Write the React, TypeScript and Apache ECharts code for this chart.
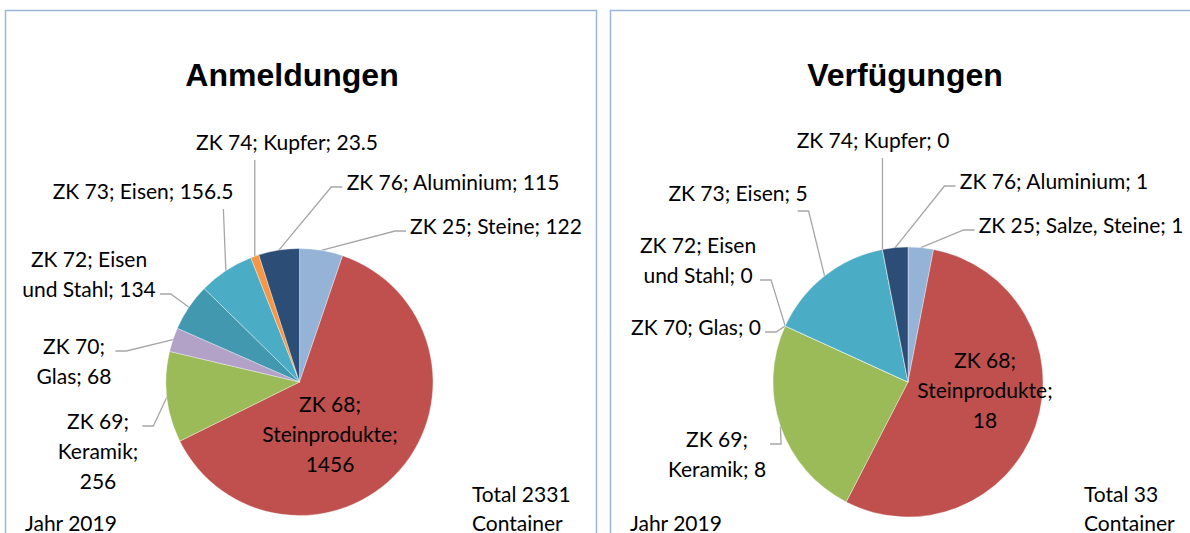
import React, { useEffect, useRef } from 'react';
import * as echarts from 'echarts';

const codes = ['ZK 25', 'ZK 68', 'ZK 69', 'ZK 70', 'ZK 72', 'ZK 73', 'ZK 74', 'ZK 76'];
const namesLeft = ['Steine', 'Steinprodukte', 'Keramik', 'Glas', 'Eisen und Stahl', 'Eisen', 'Kupfer', 'Aluminium'];
const namesRight = ['Salze, Steine', 'Steinprodukte', 'Keramik', 'Glas', 'Eisen und Stahl', 'Eisen', 'Kupfer', 'Aluminium'];
const anmeldungen = [122, 1456, 256, 68, 134, 156.5, 23.5, 115];
const verfuegungen = [1, 18, 8, 0, 0, 5, 0, 1];
const colors = ['#95b3d7', '#c0504d', '#9bbb59', '#b3a2c7', '#4198af', '#4bacc6', '#f79646', '#2c4d75'];
const titles = ['Anmeldungen', 'Verfügungen'];
const yearText = 'Jahr 2019';

// label layout (centres of label blocks) and word-break positions
const leftLabelPos = [[496, 225], [330, 433], [98, 450], [74, 360], [89, 273], [143, 190], [287, 141], [453, 181]];
const rightLabelPos = [[1081, 224], [985, 389], [717, 453], [696, 326], [698, 259], [738, 192], [873, 139], [1054, 180]];
const leftBreaks = [[], [2, 3], [2, 3], [2], [3], [], [], []];
const rightBreaks = [[], [2, 3], [2], [], [3], [], [], []];

const FONT = 'Lato';
const FS = 21;
const LH = 30;

function fmtLabel(code: string, name: string, value: number, breaks: number[]) {
  const words = `${code}; ${name}; ${value}`.split(' ');
  let s = '';
  words.forEach((w, i) => {
    if (i > 0) s += breaks.includes(i) ? '\n' : ' ';
    s += w;
  });
  return s;
}

// Excel-like leader line from the slice edge point (given by ECharts) to the label
function leaderLine(anchor: number[], cx: number, cy: number, w: number, nLines: number) {
  const h = nLines * LH;
  const left = cx - w / 2;
  const right = cx + w / 2;
  const top = cy - h / 2;
  const bottom = cy + h / 2;
  const [ax, ay] = anchor;
  if (ay > bottom + 10 && ax > left - 20 && ax < right + 20) {
    const px = Math.min(Math.max(ax, left + 10), right - 10);
    const py = bottom + 4;
    if (Math.abs(px - ax) > 8) {
      const ex = px + Math.sign(ax - px) * 11;
      return [[ax, ay], [ex, py], [px, py]];
    }
    return [[ax, ay], [px, py], [px, py]];
  }
  const onRight = ax > right;
  const sx = onRight ? right + 4 : left - 4;
  let best = 0;
  let bestD = Infinity;
  for (let i = 0; i < nLines; i++) {
    const ly = top + LH * (i + 0.5);
    const d = Math.abs(ly - ay);
    if (d < bestD) { bestD = d; best = i; }
  }
  const sy = top + LH * (best + 0.5) + 6;
  const ex = sx + (onRight ? 11 : -11);
  return [[ax, ay], [ex, sy], [sx, sy]];
}

function makeSeries(values: number[], names: string[], pos: number[][], breaks: number[][], center: number[], radius: number) {
  return {
    type: 'pie',
    center,
    radius,
    startAngle: 90,
    clockwise: true,
    avoidLabelOverlap: false,
    silent: true,
    itemStyle: { borderColor: 'rgba(255,255,255,0.6)', borderWidth: 0.6 },
    label: {
      show: true,
      position: 'outside',
      color: '#000',
      fontFamily: FONT,
      fontSize: FS,
      lineHeight: LH,
      formatter: (p: any) => fmtLabel(codes[p.dataIndex], names[p.dataIndex], values[p.dataIndex], breaks[p.dataIndex]),
    },
    labelLine: { show: true, length: 10, length2: 11, lineStyle: { color: '#a6a6a6', width: 1.3 } },
    labelLayout: (p: any) => {
      const i = p.dataIndex;
      const [x, y] = pos[i];
      const out: any = { x, y, align: 'center', verticalAlign: 'middle' };
      const pts = p.labelLinePoints;
      if (i !== 1 && pts && pts[0]) {
        const w = p.labelRect ? p.labelRect.width : 100;
        out.labelLinePoints = leaderLine([pts[0][0], pts[0][1]], x, y, w, breaks[i].length + 1);
      }
      return out;
    },
    data: values.map((v, i) => ({
      name: `${codes[i]}; ${names[i]}`,
      value: v,
      itemStyle: { color: colors[i] },
      ...(i === 1 ? { label: { position: 'inner' }, labelLine: { show: false } } : {}),
    })),
  };
}

export default function App() {
  const ref = useRef<HTMLDivElement>(null);
  useEffect(() => {
    const chart = echarts.init(ref.current!, null, { renderer: 'svg' });
    const totalL = anmeldungen.reduce((a, b) => a + b, 0);
    const totalR = verfuegungen.reduce((a, b) => a + b, 0);
    const txt = (text: string, x: number, y: number, align = 'left') => ({
      type: 'text', x, y,
      style: { text, fill: '#000', font: `${FS}px ${FONT}`, align, verticalAlign: 'middle' },
    });
    chart.setOption({
      animation: false,
      backgroundColor: '#fff',
      graphic: [
        { type: 'rect', shape: { x: 5.5, y: 10.5, width: 591, height: 700 }, style: { fill: 'none', stroke: '#9ab6d9', lineWidth: 1.5 } },
        { type: 'rect', shape: { x: 610.5, y: 10.5, width: 700, height: 700 }, style: { fill: 'none', stroke: '#9ab6d9', lineWidth: 1.5 } },
        { type: 'text', x: 292, y: 75, style: { text: titles[0], fill: '#000', font: 'bold 32px "Liberation Sans", Arial', align: 'center', verticalAlign: 'middle' } },
        { type: 'text', x: 905, y: 75, style: { text: titles[1], fill: '#000', font: 'bold 32px "Liberation Sans", Arial', align: 'center', verticalAlign: 'middle' } },
        txt(yearText, 25, 522),
        txt(yearText, 630, 522),
        txt(`Total ${totalL}`, 472, 493),
        txt('Container', 472, 522),
        txt(`Total ${totalR}`, 1084, 493),
        txt('Container', 1084, 522),
      ],
      series: [
        makeSeries(anmeldungen, namesLeft, leftLabelPos, leftBreaks, [299.5, 382], 133.5),
        makeSeries(verfuegungen, namesRight, rightLabelPos, rightBreaks, [908, 382], 135),
      ],
    });
    return () => chart.dispose();
  }, []);
  return <div ref={ref} style={{ position: 'fixed', left: 0, top: 0, width: 1190, height: 533 }} />;
}
